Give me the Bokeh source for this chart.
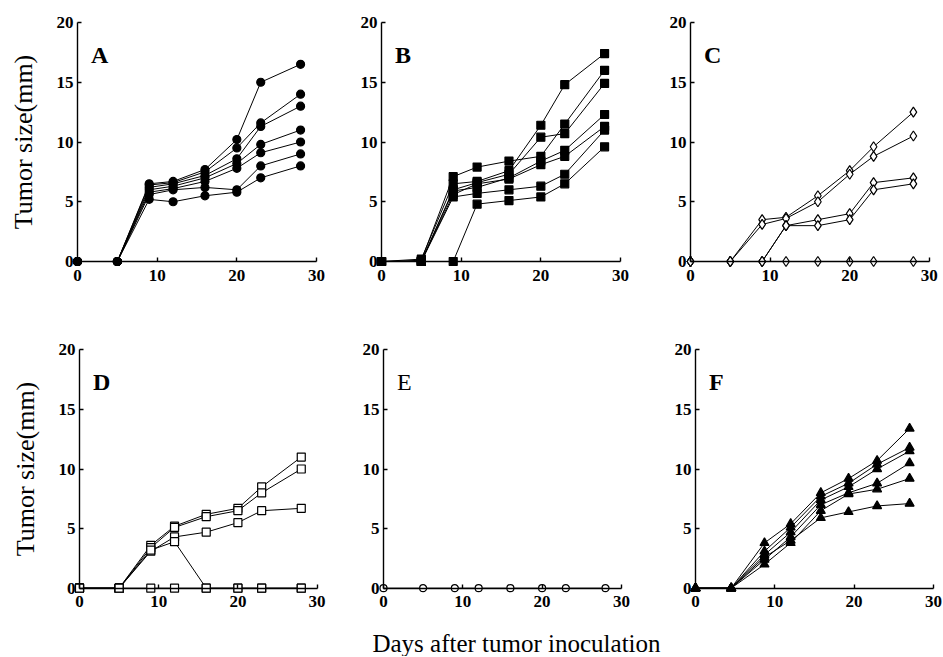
from bokeh.plotting import figure
from bokeh.layouts import column, row
from bokeh.models import Range1d, Label, FixedTicker
from bokeh.embed import file_html
from bokeh.resources import INLINE

# ---------------- data ----------------
days = [0, 5, 9, 12, 16, 20, 23, 28]
days_f = [0, 4.5, 8.7, 12, 15.8, 19.3, 22.9, 27]

x_ticks = [0, 10, 20, 30]
y_ticks = [0, 5, 10, 15, 20]

series_a = [
    [0, 0, 6.5, 6.7, 7.7, 10.2, 15.0, 16.5],
    [0, 0, 6.4, 6.6, 7.5, 9.5, 11.6, 14.0],
    [0, 0, 6.2, 6.5, 7.2, 8.6, 11.3, 13.0],
    [0, 0, 6.0, 6.3, 7.0, 8.2, 9.8, 11.0],
    [0, 0, 5.8, 6.1, 6.7, 7.8, 9.1, 10.0],
    [0, 0, 5.6, 6.0, 6.2, 6.0, 8.0, 9.0],
    [0, 0, 5.2, 5.0, 5.5, 5.8, 7.0, 8.0],
]
series_b = [
    [0, 0.2, 6.5, 6.7, 7.6, 11.4, 14.8, 17.4],
    [0, 0.1, 7.1, 7.9, 8.4, 8.8, 11.5, 16.0],
    [0, 0, 6.0, 6.6, 7.3, 10.4, 10.7, 14.9],
    [0, 0, 5.9, 6.2, 7.0, 8.4, 9.3, 12.3],
    [0, 0, 5.6, 6.5, 6.9, 8.1, 8.8, 11.3],
    [0, 0, 5.4, 5.7, 6.0, 6.3, 7.3, 11.0],
    [0, 0, 0, 4.8, 5.1, 5.4, 6.5, 9.6],
]
series_c = [
    [0, 0, 3.5, 3.7, 5.5, 7.6, 9.6, 12.5],
    [0, 0, 3.1, 3.6, 5.0, 7.3, 8.8, 10.5],
    [0, 0, 0, 3.0, 3.5, 4.0, 6.6, 7.0],
    [0, 0, 0, 3.0, 3.0, 3.5, 6.0, 6.5],
    [0, 0, 0, 0, 0, 0, 0, 0],
]
series_d = [
    [0, 0, 3.6, 5.2, 6.2, 6.7, 8.5, 11.0],
    [0, 0, 3.4, 5.1, 6.0, 6.5, 8.0, 10.0],
    [0, 0, 3.1, 4.3, 4.7, 5.5, 6.5, 6.7],
    [0, 0, 3.2, 3.9, 0, 0, 0, 0],
    [0, 0, 0, 0, 0, 0, 0, 0],
]
series_e = [
    [0, 0, 0, 0, 0, 0, 0, 0],
]
series_f = [
    [0, 0, 3.8, 5.4, 8.0, 9.2, 10.7, 13.4],
    [0, 0, 3.1, 5.1, 7.7, 8.8, 10.4, 11.8],
    [0, 0, 2.8, 4.7, 7.4, 8.5, 10.0, 11.5],
    [0, 0, 2.4, 4.3, 7.0, 8.0, 8.8, 10.5],
    [0, 0, 2.0, 3.8, 6.5, 7.9, 8.3, 9.2],
    [0, 0, 2.6, 4.0, 5.9, 6.4, 6.9, 7.1],
]

y_title = "Tumor size(mm)"
x_title = "Days after tumor inoculation"

SERIF = "Liberation Serif"
BL = 2  # frame left border in px


def panel(xs, series, marker, filled, size, letter, bold, width, height,
          x0c, sx, y0c, sy, ylabel=None):
    # ranges chosen so that data 0 lands at pixel (x0c, y0c) of the canvas,
    # the frame fills the canvas so that the axes (drawn at 0) are not clipped
    xr = Range1d(-(x0c - BL) / sx, (width - x0c) / sx)
    yr = Range1d(-(height - y0c) / sy, y0c / sy)
    p = figure(width=width, height=height, x_range=xr, y_range=yr,
               output_backend="svg", toolbar_location=None,
               min_border_left=BL, min_border_right=0,
               min_border_top=0, min_border_bottom=0)
    p.outline_line_color = None
    p.xgrid.visible = False
    p.ygrid.visible = False
    p.background_fill_color = "white"
    for ax in (p.xaxis[0], p.yaxis[0]):
        ax.major_tick_in = 4
        ax.major_tick_out = 0
        ax.minor_tick_line_color = None
        ax.axis_line_width = 1.4
        ax.axis_line_color = "black"
        ax.major_tick_line_width = 1.4
        ax.major_tick_line_color = "black"
        ax.major_label_text_font = SERIF
        ax.major_label_text_font_style = "bold"
        ax.major_label_text_font_size = "17px"
        ax.major_label_text_color = "black"
    p.xaxis.ticker = FixedTicker(ticks=x_ticks)
    p.yaxis.ticker = FixedTicker(ticks=y_ticks)
    p.xaxis.fixed_location = 0
    p.yaxis.fixed_location = 0
    p.xaxis.bounds = (0, 30)
    p.yaxis.bounds = (0, 20)
    p.xaxis.major_label_standoff = 8
    p.yaxis.major_label_standoff = 4
    if ylabel:
        p.yaxis.axis_label = ylabel
        p.yaxis.axis_label_text_font = SERIF
        p.yaxis.axis_label_text_font_style = "normal"
        p.yaxis.axis_label_text_font_size = "26px"
        p.yaxis.axis_label_text_color = "black"
        p.yaxis.axis_label_standoff = 16

    for ys in series:
        p.line(xs, ys, line_color="black", line_width=1)
        p.scatter(xs, ys, marker=marker, size=size,
                  fill_color="black" if filled else "white",
                  line_color="black", line_width=1.2)

    p.add_layout(Label(x=1.7, y=17.3, text=letter, text_font=SERIF,
                       text_font_style="bold" if bold else "normal",
                       text_font_size="24px", text_color="black",
                       text_baseline="alphabetic"))
    return p


H1, H2, H3 = 310, 305, 41
pa = panel(days, series_a, "circle", True, 8, "A", True, 335, H1, 77, 7.967, 261, 11.95, y_title)
pb = panel(days, series_b, "square", True, 8, "B", True, 315, H1, 46, 7.967, 261, 11.95)
pc = panel(days, series_c, "diamond", False, 10, "C", True, 293, H1, 40, 7.96, 261, 11.95)
pd = panel(days, series_d, "square", False, 8, "D", True, 335, H2, 79, 7.92, 277.7, 11.92, y_title)
pe = panel(days, series_e, "circle", False, 7, "E", False, 315, H2, 48, 7.93, 277.7, 11.92)
pf = panel(days_f, series_f, "triangle", True, 9, "F", True, 293, H2, 45, 7.93, 277.7, 11.92)

# strip holding the common x-axis title
strip = figure(width=943, height=H3, x_range=Range1d(0, 943), y_range=Range1d(0, H3),
               output_backend="svg", toolbar_location=None,
               min_border_left=0, min_border_right=0, min_border_top=0, min_border_bottom=0)
strip.axis.visible = False
strip.grid.visible = False
strip.outline_line_color = None
strip.add_layout(Label(x=516, y=13, text=x_title, text_font=SERIF,
                       text_font_size="25px", text_color="black",
                       text_align="center", text_baseline="alphabetic"))

layout = column(row(pa, pb, pc), row(pd, pe, pf), strip)

open("out.html", "w").write(file_html(layout, INLINE))
